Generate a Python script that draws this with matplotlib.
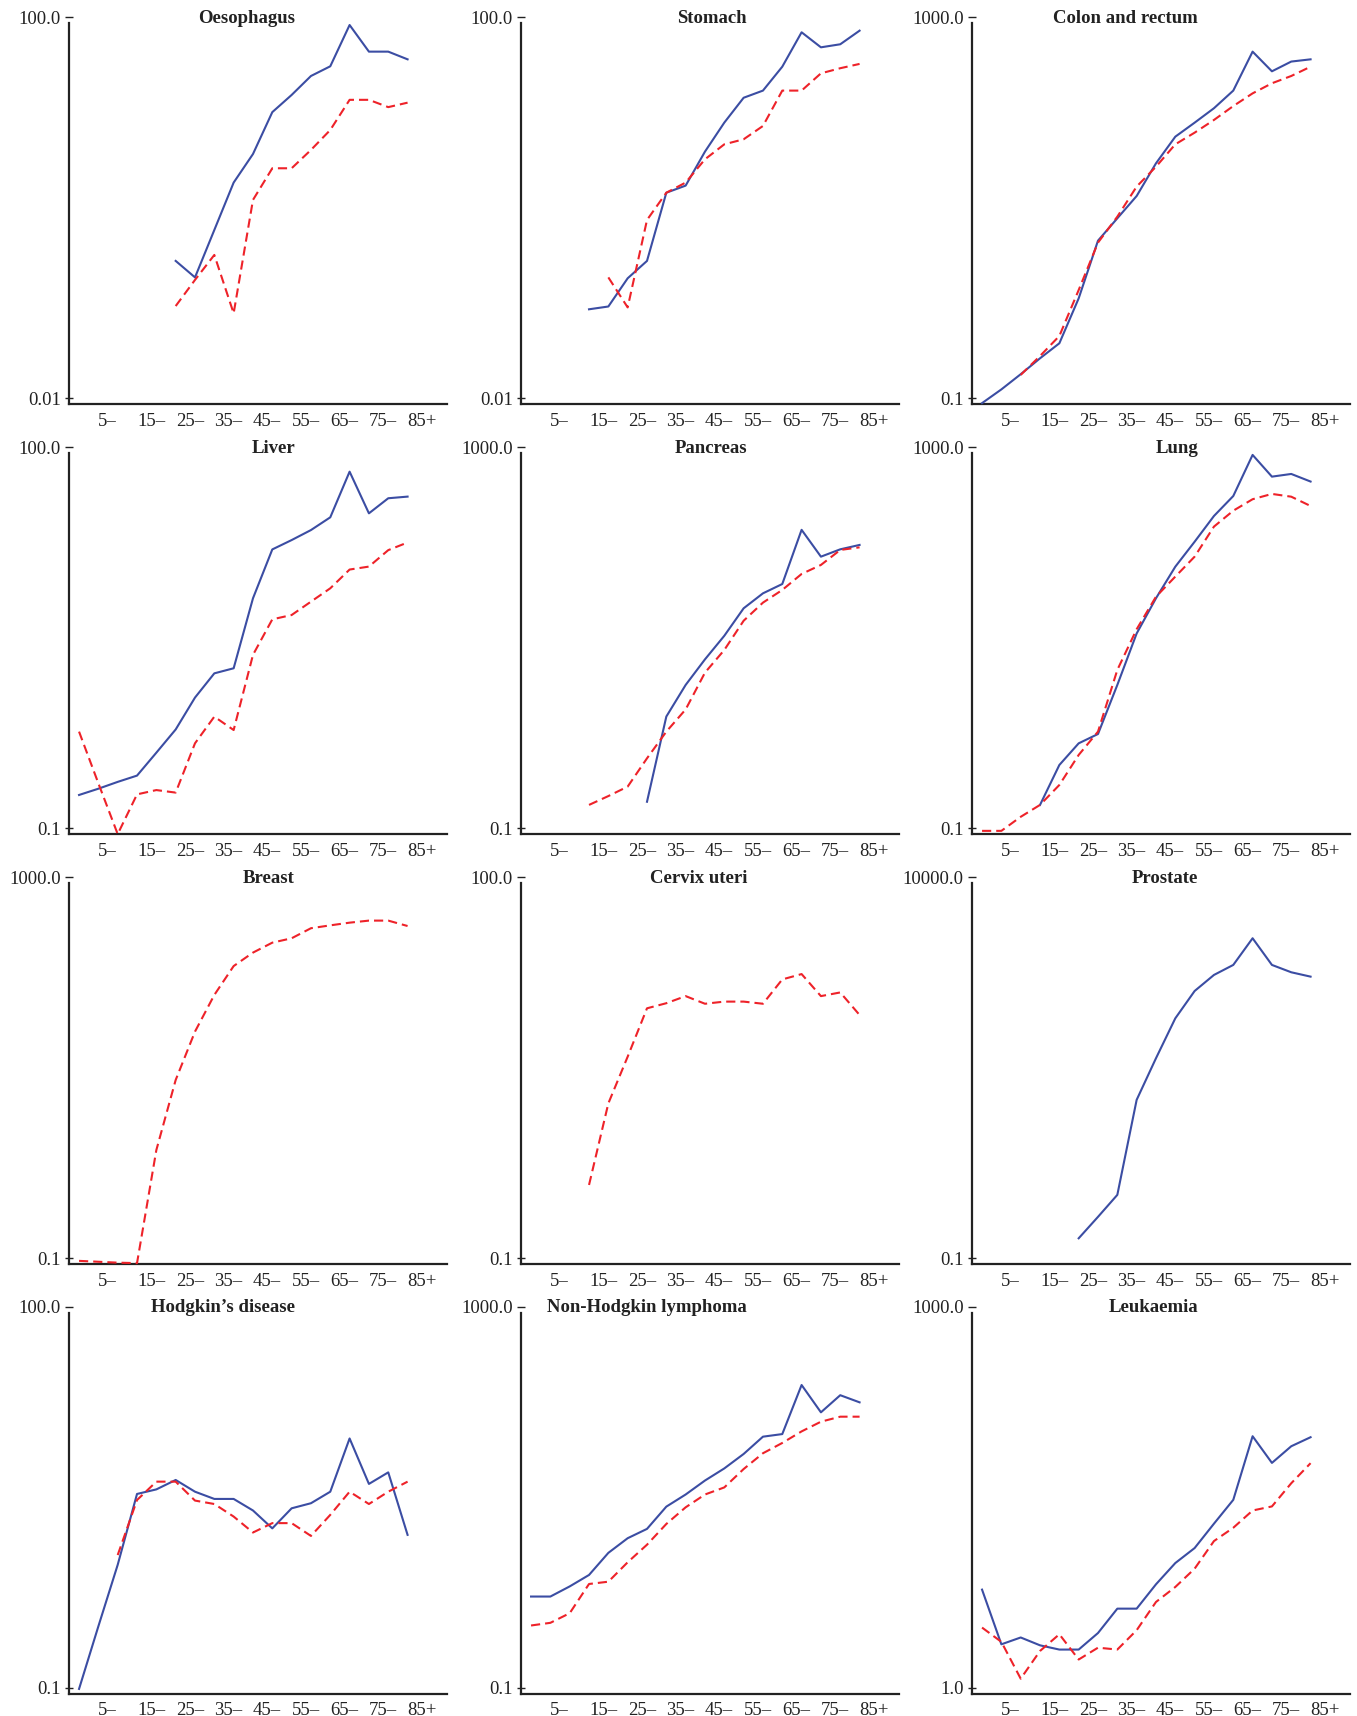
import numpy as np
import matplotlib
matplotlib.use('Agg')
import matplotlib.pyplot as plt
from matplotlib.ticker import NullLocator

plt.rcParams['font.family'] = ['Liberation Serif', 'DejaVu Serif']
plt.rcParams['font.size'] = 13.5

# ---------------------------------------------------------------------------
# Data: age-specific rates (log scale), males (solid) and females (dashed)
# ---------------------------------------------------------------------------
nan = np.nan
age_groups = ['0\u2013', '5\u2013', '10\u2013', '15\u2013', '20\u2013', '25\u2013',
              '30\u2013', '35\u2013', '40\u2013', '45\u2013', '50\u2013', '55\u2013',
              '60\u2013', '65\u2013', '70\u2013', '75\u2013', '80\u2013', '85+']

sites = ['Oesophagus', 'Stomach', 'Colon and rectum',
         'Liver', 'Pancreas', 'Lung',
         'Breast', 'Cervix uteri', 'Prostate',
         'Hodgkin\u2019s disease', 'Non-Hodgkin lymphoma', 'Leukaemia']

y_low = [0.01, 0.01, 0.1, 0.1, 0.1, 0.1, 0.1, 0.1, 0.1, 0.1, 0.1, 1.0]
y_high = [100, 100, 1000, 100, 1000, 1000, 1000, 100, 10000, 100, 1000, 1000]
y_low_labels = ['0.01', '0.01', '0.1', '0.1', '0.1', '0.1',
                '0.1', '0.1', '0.1', '0.1', '0.1', '1.0']
y_high_labels = ['100.0', '100.0', '1000.0', '100.0', '1000.0', '1000.0',
                 '1000.0', '100.0', '10000.0', '100.0', '1000.0', '1000.0']

male_oesophagus = [nan, nan, nan, nan, nan, 0.277, 0.186, 0.585, 1.84, 3.67, 10.1,
                   15.3, 24.2, 30.6, 83, 43.6, 43.6, 36.2]
female_oesophagus = [nan, nan, nan, nan, nan, 0.093, 0.175, 0.32, 0.078, 1.21, 2.6,
                     2.6, 4.05, 6.56, 13.6, 13.6, 11.4, 12.7]

male_stomach = [nan, nan, nan, 0.086, 0.092, 0.182, 0.277, 1.44, 1.71, 3.89, 7.84,
                14.3, 17.0, 30.3, 69.6, 48.4, 52.1, 72.4]
female_stomach = [nan, nan, nan, nan, 0.186, 0.090, 0.745, 1.44, 1.84, 3.23, 4.64,
                  5.24, 7.23, 17.0, 17.0, 25.8, 29.2, 32.4]

male_colon = [0.089, 0.124, 0.179, 0.263, 0.378, 1.12, 4.52, 7.76, 13.3, 29.3, 55.8,
              78.3, 111, 170, 436, 271, 343, 362]
female_colon = [nan, nan, 0.176, 0.278, 0.451, 1.37, 4.31, 8.07, 16.7, 27.0, 46.4,
                61.5, 83.6, 117, 159, 203, 242, 303]

male_liver = [0.183, 0.205, 0.232, 0.26, 0.394, 0.60, 1.07, 1.66, 1.82, 6.47, 15.7,
              18.6, 22.3, 28.1, 64.3, 30.2, 39.7, 40.9]
female_liver = [0.577, 0.226, 0.09, 0.185, 0.2, 0.191, 0.467, 0.757, 0.594, 2.32, 4.42,
                4.78, 6.09, 7.76, 10.9, 11.5, 15.5, 17.8]

male_pancreas = [nan, nan, nan, nan, nan, nan, 0.19, 1.49, 3.2, 5.94, 10.5,
                 20.4, 29.3, 36.7, 136, 71.1, 84.9, 94.4]
female_pancreas = [nan, nan, nan, 0.176, 0.218, 0.274, 0.543, 1.035, 1.77, 4.31, 7.45,
                   15.1, 23.4, 31.8, 46.8, 58.2, 83.6, 89.1]

male_lung = [nan, nan, nan, 0.176, 0.462, 0.78, 0.977, 3.2, 11.1, 26.0, 55.8,
             102, 190, 308, 832, 492, 525, 437]
female_lung = [0.094, 0.094, 0.132, 0.176, 0.285, 0.589, 1.035, 4.6, 12.3, 27.0, 43.9,
               71.1, 147, 216, 285, 324, 303, 242]

male_breast = [nan] * 18
female_breast = [0.094, 0.092, 0.09, 0.089, 1.37, 7.45, 24, 58.2, 117, 162, 206,
                 229, 292, 313, 334, 351, 351, 308]

male_cervix = [nan] * 18
female_cervix = [nan, nan, nan, 0.378, 1.66, 3.87, 9.3, 10.2, 11.6, 10.1, 10.5,
                 10.5, 10.1, 15.7, 17.3, 11.6, 12.4, 8.24]

male_prostate = [nan, nan, nan, nan, nan, 0.183, 0.35, 0.68, 12.0, 42.2, 141,
                 322, 523, 708, 1585, 708, 567, 497]
female_prostate = [nan] * 18

male_hodgkin = [0.098, 0.305, 0.93, 3.36, 3.65, 4.33, 3.5, 3.07, 3.07, 2.49, 1.8,
                2.59, 2.84, 3.5, 9.19, 4.03, 4.97, 1.6]
female_hodgkin = [nan, nan, 1.11, 3.01, 4.2, 4.2, 2.98, 2.8, 2.23, 1.67, 1.98,
                  1.98, 1.57, 2.3, 3.5, 2.8, 3.5, 4.2]

male_nhl = [0.908, 0.908, 1.16, 1.53, 2.61, 3.72, 4.66, 7.98, 10.7, 15.0, 20.1,
            28.5, 43.3, 46.1, 151, 78, 118, 99.3]
female_nhl = [0.451, 0.481, 0.607, 1.23, 1.3, 2.08, 3.18, 5.25, 7.85, 10.7, 12.7,
              19.8, 29.0, 37.2, 49.2, 62.2, 70.2, 70.2]

male_leukaemia = [5.93, 2.2, 2.49, 2.16, 2.0, 2.0, 2.7, 4.2, 4.2, 6.53, 9.6,
                  12.6, 19.6, 30.2, 95.7, 59, 79.8, 94]
female_leukaemia = [2.98, 2.3, 1.18, 1.95, 2.64, 1.67, 2.07, 2.0, 2.84, 4.74, 6.22,
                    8.67, 14.3, 18.2, 24.9, 26.8, 40.8, 58.7]

males = [male_oesophagus, male_stomach, male_colon, male_liver, male_pancreas,
         male_lung, male_breast, male_cervix, male_prostate, male_hodgkin,
         male_nhl, male_leukaemia]
females = [female_oesophagus, female_stomach, female_colon, female_liver,
           female_pancreas, female_lung, female_breast, female_cervix,
           female_prostate, female_hodgkin, female_nhl, female_leukaemia]

# ---------------------------------------------------------------------------
# Layout (pixel geometry of the 1357 x 1716 figure)
# ---------------------------------------------------------------------------
W, H = 1357, 1716
fig = plt.figure(figsize=(W / 100, H / 100), dpi=100)

col_left = [69, 521, 972]
ax_w = 378
row_top = [17.3, 447.3, 877.3, 1306.8]
tick_span = 381     # px between the two y ticks
pad_below = 6       # px from the lower tick down to the x axis
ax_h = tick_span + pad_below

blue = '#3b4da3'
red = '#ee2229'
x = np.arange(len(age_groups))

for k, site in enumerate(sites):
    r, c = divmod(k, 3)
    left = col_left[c] / W
    bottom = 1 - (row_top[r] + ax_h) / H
    ax = fig.add_axes([left, bottom, ax_w / W, ax_h / H])

    lo, hi = y_low[k], y_high[k]
    dec = np.log10(hi / lo)
    ymin = lo * 10 ** (-pad_below / tick_span * dec)
    ax.set_yscale('log')
    ax.set_ylim(ymin, hi)
    ax.set_xlim(-0.52, 19.04)

    m = np.array(males[k], dtype=float)
    f = np.array(females[k], dtype=float)
    ax.plot(x, m, color=blue, lw=1.5, clip_on=False, zorder=3)
    ax.plot(x, f, color=red, lw=1.5, ls=(0, (4.4, 2.4)), clip_on=False, zorder=3)

    ax.set_yticks([lo, hi])
    ax.set_yticklabels([y_low_labels[k], y_high_labels[k]])
    ax.yaxis.set_minor_locator(NullLocator())
    ax.tick_params(axis='y', direction='inout', length=6, width=1.0,
                   pad=3, labelsize=13.5, colors='#222222')

    ax.set_xticks(x[1::2])
    ax.set_xticklabels(age_groups[1::2])
    ax.xaxis.set_minor_locator(NullLocator())
    ax.tick_params(axis='x', length=0, pad=6, labelsize=13.5, colors='#222222')
    for lbl in ax.get_xticklabels():
        lbl.set_horizontalalignment('left')

    for side in ['top', 'right']:
        ax.spines[side].set_visible(False)
    for side in ['left', 'bottom']:
        ax.spines[side].set_linewidth(1.6)
        ax.spines[side].set_color('#222222')
    ax.spines['left'].set_bounds(ymin, hi * 10 ** (-6 / tick_span * dec))

    ax.annotate(site, xy=(226 / ax_w, 1.0), xycoords='axes fraction',
                xytext=(0, -4), textcoords='offset points',
                ha='right', va='baseline', fontweight='bold',
                fontsize=13.5, color='#222222')

fig.savefig('out.png', dpi=100)
